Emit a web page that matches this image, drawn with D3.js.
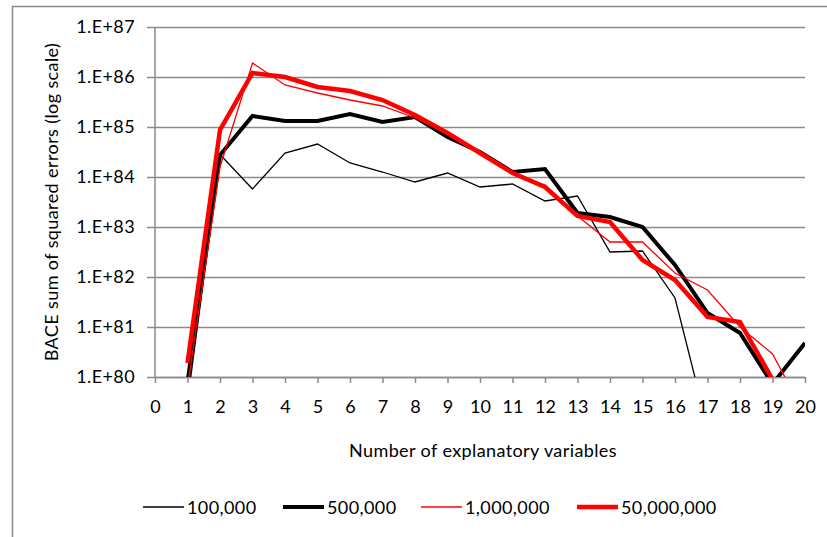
<!DOCTYPE html>
<html>
<head>
<meta charset="utf-8">
<script src="https://cdn.jsdelivr.net/npm/d3@7"></script>
<style>
  body { margin: 0; background: #fff; }
  text { font-family: Lato, "Open Sans", sans-serif; fill: #000; letter-spacing: 0.4px; }
</style>
</head>
<body>
<div id="chart"></div>
<script>
// number of explanatory variables
var xs = [1, 2, 3, 4, 5, 6, 7, 8, 9, 10, 11, 12, 13, 14, 15, 16, 17, 18, 19, 20];
// log10 of BACE sum of squared errors, one array per sample size
var s100k = [79.5, 84.45, 83.76, 84.48, 84.66, 84.28, 84.1, 83.9, 84.08, 83.8, 83.86, 83.52, 83.62, 82.5, 82.52, 81.58, 79.0];
var s500k = [79.9, 84.44, 85.22, 85.12, 85.12, 85.26, 85.1, 85.2, 84.8, 84.5, 84.1, 84.16, 83.28, 83.2, 83.0, 82.24, 81.28, 80.88, 79.86, 80.68];
var s1m   = [79.8, 84.2, 86.28, 85.84, 85.68, 85.54, 85.42, 85.18, 84.86, 84.5, 84.06, 83.84, 83.22, 82.7, 82.7, 82.08, 81.74, 81.0, 80.46, 79.25];
var s50m  = [80.28, 84.94, 86.08, 86.0, 85.8, 85.72, 85.54, 85.24, 84.88, 84.48, 84.08, 83.8, 83.22, 83.1, 82.34, 81.94, 81.2, 81.1, 79.95, 78.5];
var seriesNames = ["100,000", "500,000", "1,000,000", "50,000,000"];
var seriesColors = ["#000", "#000", "#ff0000", "#ff0000"];
var seriesWidths = [1.3, 4, 1.3, 4.5];
var yTicks = [80, 81, 82, 83, 84, 85, 86, 87];
var xTicks = d3.range(0, 21);

var W = 827, H = 537;
var margin = {t: 27, r: 22, b: 160, l: 155};
var width = W - margin.l - margin.r,
    height = H - margin.t - margin.b;

var svg = d3.select('#chart').append('svg')
    .attr('width', W)
    .attr('height', H);

// chart frame
svg.append('rect')
    .attr('x', 12.5).attr('y', 6.5)
    .attr('width', 900).attr('height', 600)
    .attr('fill', 'none').attr('stroke', '#8a8a8a').attr('stroke-width', 1.5);

var scaleX = d3.scaleLinear().domain([0, 20]).range([0, width]);
var scaleY = d3.scaleLinear().domain([80, 87]).range([height, 0]);

var plot = svg.append('g').attr('transform', 'translate(' + margin.l + ',' + margin.t + ')');

// gridlines + y axis
var axisY = d3.axisLeft(scaleY)
    .tickValues(yTicks)
    .tickSizeInner(-width)
    .tickSizeOuter(0)
    .tickPadding(20)
    .tickFormat(function(d) { return '1.E+' + d; });
var gy = plot.append('g').attr('class', 'axis-y').call(axisY);
gy.select('.domain').remove();
gy.selectAll('.tick line').attr('stroke', '#8a8a8a').attr('stroke-width', 1.5).attr('x1', -8);
gy.selectAll('.tick text').style('font-size', '18px');

// x axis
var axisX = d3.axisBottom(scaleX)
    .tickValues(xTicks)
    .tickSizeInner(6)
    .tickSizeOuter(0)
    .tickPadding(17)
    .tickFormat(d3.format('d'));
var gx = plot.append('g').attr('class', 'axis-x')
    .attr('transform', 'translate(0,' + height + ')')
    .call(axisX);
gx.selectAll('.domain').attr('stroke', '#8a8a8a').attr('stroke-width', 1.5);
gx.selectAll('.tick line').attr('stroke', '#8a8a8a').attr('stroke-width', 1.5);
gx.selectAll('.tick text').style('font-size', '18px').style('letter-spacing', '0px');

// y axis line
plot.append('line')
    .attr('x1', 0).attr('x2', 0)
    .attr('y1', 0).attr('y2', height)
    .attr('stroke', '#8a8a8a').attr('stroke-width', 1.5);

// clip series to plot area
plot.append('clipPath').attr('id', 'clip')
    .append('rect').attr('x', 0).attr('y', 0).attr('width', width).attr('height', height);

var line = d3.line()
    .x(function(d) { return scaleX(d[0]); })
    .y(function(d) { return scaleY(d[1]); });

var allSeries = [s100k, s500k, s1m, s50m];
var lines = plot.append('g').attr('clip-path', 'url(#clip)');
allSeries.forEach(function(s, i) {
    var pts = s.map(function(v, j) { return [xs[j], v]; });
    lines.append('path')
        .datum(pts)
        .attr('d', line)
        .attr('fill', 'none')
        .attr('stroke', seriesColors[i])
        .attr('stroke-width', seriesWidths[i])
        .attr('stroke-linejoin', 'miter');
});

// axis titles
svg.append('text')
    .attr('x', 483)
    .attr('y', 457)
    .attr('text-anchor', 'middle')
    .style('font-size', '18px')
    .text('Number of explanatory variables');

svg.append('text')
    .attr('transform', 'translate(58,' + 202 + ') rotate(-90)')
    .attr('text-anchor', 'middle')
    .style('font-size', '18px')
    .text('BACE sum of squared errors (log scale)');

// legend
var legendX = [143, 283, 421, 577];
var legend = svg.append('g').attr('transform', 'translate(0,507)');
seriesNames.forEach(function(n, i) {
    legend.append('line')
        .attr('x1', legendX[i]).attr('x2', legendX[i] + 41)
        .attr('y1', 0).attr('y2', 0)
        .attr('stroke', seriesColors[i])
        .attr('stroke-width', seriesWidths[i]);
    legend.append('text')
        .attr('x', legendX[i] + 44)
        .attr('y', 6.5)
        .style('font-size', '18px')
        .text(n);
});
</script>
</body>
</html>
